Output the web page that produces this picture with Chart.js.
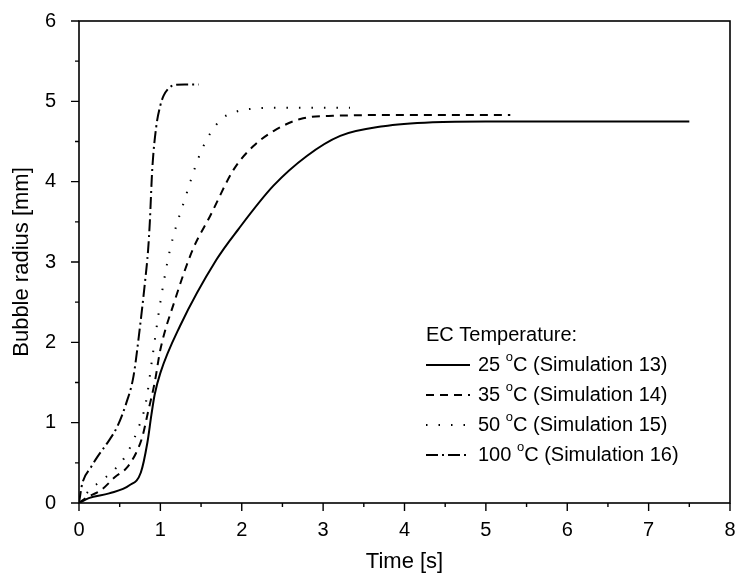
<!DOCTYPE html>
<html>
<head>
<meta charset="utf-8">
<script src="https://cdn.jsdelivr.net/npm/chart.js@4"></script>
<style>
  html, body { margin: 0; padding: 0; background: #fff; }
  #wrap { width: 735px; height: 574px; }
</style>
</head>
<body>
<div id="wrap"><canvas id="bubbleChart"></canvas></div>
<script>
// Bubble radius vs time for different EC temperatures
const time25 = [0, 0.12, 0.37, 0.62, 0.76, 0.84, 0.89, 0.93, 1.0, 1.24, 1.69, 1.96, 2.39, 2.8, 3.21, 3.74, 4.35, 5.0, 6.0, 7.5];
const radius25 = [0, 0.06, 0.12, 0.22, 0.38, 0.75, 1.1, 1.35, 1.62, 2.2, 3.03, 3.41, 3.95, 4.32, 4.57, 4.69, 4.74, 4.75, 4.75, 4.75];

const time35 = [0, 0.08, 0.27, 0.45, 0.58, 0.70, 0.78, 0.85, 0.93, 1.0, 1.18, 1.4, 1.61, 1.9, 2.14, 2.39, 2.72, 3.12, 4.0, 5.3];
const radius35 = [0, 0.06, 0.16, 0.33, 0.43, 0.62, 0.83, 1.14, 1.5, 1.91, 2.53, 3.16, 3.57, 4.15, 4.44, 4.63, 4.78, 4.82, 4.83, 4.83];

const time50 = [0, 0.13, 0.29, 0.45, 0.58, 0.72, 0.82, 0.9, 1.0, 1.12, 1.3, 1.51, 1.73, 1.9, 2.06, 2.5, 3.33];
const radius50 = [0, 0.16, 0.29, 0.43, 0.6, 0.91, 1.24, 1.8, 2.5, 3.16, 3.78, 4.4, 4.76, 4.86, 4.9, 4.92, 4.92];

const time100 = [0, 0.04, 0.15, 0.23, 0.37, 0.47, 0.58, 0.67, 0.75, 0.81, 0.85, 0.87, 0.9, 0.95, 1.0, 1.04, 1.1, 1.16, 1.3, 1.47];
const radius100 = [0, 0.24, 0.45, 0.58, 0.78, 0.95, 1.24, 1.58, 2.2, 2.74, 3.16, 3.49, 4.15, 4.69, 4.95, 5.07, 5.16, 5.2, 5.21, 5.21];

const temperatures = ['25', '35', '50', '100'];
const simulations = ['13', '14', '15', '16'];
const dashes = [[], [8, 6], [1.5, 11], [12, 4, 2, 4]];

const FONT = '"Liberation Sans", Arial, Helvetica, sans-serif';

function toPoints(xs, ys) {
    return xs.map((x, i) => ({ x: x, y: ys[i] }));
}

const seriesData = [
    toPoints(time25, radius25),
    toPoints(time35, radius35),
    toPoints(time50, radius50),
    toPoints(time100, radius100)
];

// no extra room for overflowing tick labels, layout padding decides the plot box
function noOverflow(scale) {
    scale.paddingTop = 0;
    scale.paddingBottom = 0;
    scale.paddingLeft = 0;
    scale.paddingRight = 0;
}

// frame + major/minor ticks (outside), like the original plot
const frameTicks = {
    id: 'frameTicks',
    afterDraw(chart) {
        const { ctx, chartArea: a, scales } = chart;
        ctx.save();
        ctx.strokeStyle = '#000';
        ctx.lineWidth = 1.6;
        ctx.strokeRect(a.left, a.top, a.right - a.left, a.bottom - a.top);
        ctx.lineWidth = 1.4;
        ctx.beginPath();
        for (let v = 0; v <= 8; v += 0.5) {
            const px = scales.x.getPixelForValue(v);
            const len = Number.isInteger(v) ? 8 : 4;
            ctx.moveTo(px, a.bottom);
            ctx.lineTo(px, a.bottom + len);
        }
        for (let v = 0; v <= 6; v += 0.5) {
            const py = scales.y.getPixelForValue(v);
            const len = Number.isInteger(v) ? 8 : 4;
            ctx.moveTo(a.left, py);
            ctx.lineTo(a.left - len, py);
        }
        ctx.stroke();
        ctx.restore();
    }
};

// legend with superscript "o" in the degree label
const tempLegend = {
    id: 'tempLegend',
    afterDraw(chart) {
        const ctx = chart.ctx;
        const x0 = 426, x1 = 470, tx = 478;
        ctx.save();
        ctx.fillStyle = '#000';
        ctx.textBaseline = 'middle';
        ctx.font = '20px ' + FONT;
        ctx.fillText('EC Temperature:', x0, 335);
        temperatures.forEach((t, i) => {
            const y = 365 + i * 30;
            ctx.strokeStyle = '#000';
            ctx.lineWidth = 2;
            ctx.setLineDash(dashes[i]);
            ctx.beginPath();
            ctx.moveTo(x0, y);
            ctx.lineTo(x1, y);
            ctx.stroke();
            ctx.setLineDash([]);
            ctx.font = '20px ' + FONT;
            let x = tx;
            const part1 = t + ' ';
            ctx.fillText(part1, x, y);
            x += ctx.measureText(part1).width;
            ctx.font = '13px ' + FONT;
            ctx.fillText('o', x, y - 8);
            x += ctx.measureText('o').width;
            ctx.font = '20px ' + FONT;
            ctx.fillText('C (Simulation ' + simulations[i] + ')', x, y);
        });
        ctx.restore();
    }
};

new Chart(document.getElementById('bubbleChart').getContext('2d'), {
    type: 'scatter',
    data: {
        datasets: seriesData.map((pts, i) => ({
            label: temperatures[i] + ' °C (Simulation ' + simulations[i] + ')',
            data: pts,
            showLine: true,
            borderColor: '#000',
            borderWidth: 2,
            borderDash: dashes[i],
            pointRadius: 0,
            cubicInterpolationMode: 'monotone',
            fill: false
        }))
    },
    options: {
        responsive: true,
        maintainAspectRatio: false,
        animation: false,
        layout: { padding: { left: 0, right: 5, top: 21, bottom: 0 } },
        plugins: {
            legend: { display: false },
            tooltip: { enabled: false }
        },
        scales: {
            x: {
                type: 'linear',
                min: 0,
                max: 8,
                grid: { display: false, drawTicks: false },
                border: { display: false },
                ticks: {
                    stepSize: 1,
                    color: '#000',
                    padding: 15,
                    maxRotation: 0,
                    font: { family: FONT, size: 20 }
                },
                title: {
                    display: true,
                    text: 'Time [s]',
                    color: '#000',
                    padding: { top: 0, bottom: 1 },
                    font: { family: FONT, size: 22, lineHeight: 1 }
                },
                afterFit: (scale) => { scale.height = 71; noOverflow(scale); }
            },
            y: {
                min: 0,
                max: 6,
                grid: { display: false, drawTicks: false },
                border: { display: false },
                ticks: {
                    stepSize: 1,
                    color: '#000',
                    padding: 23,
                    font: { family: FONT, size: 20 }
                },
                title: {
                    display: true,
                    text: 'Bubble radius [mm]',
                    color: '#000',
                    padding: { top: 11, bottom: 0 },
                    font: { family: FONT, size: 22, lineHeight: 1 }
                },
                afterFit: (scale) => { scale.width = 79; noOverflow(scale); }
            }
        }
    },
    plugins: [frameTicks, tempLegend]
});
</script>
</body>
</html>
